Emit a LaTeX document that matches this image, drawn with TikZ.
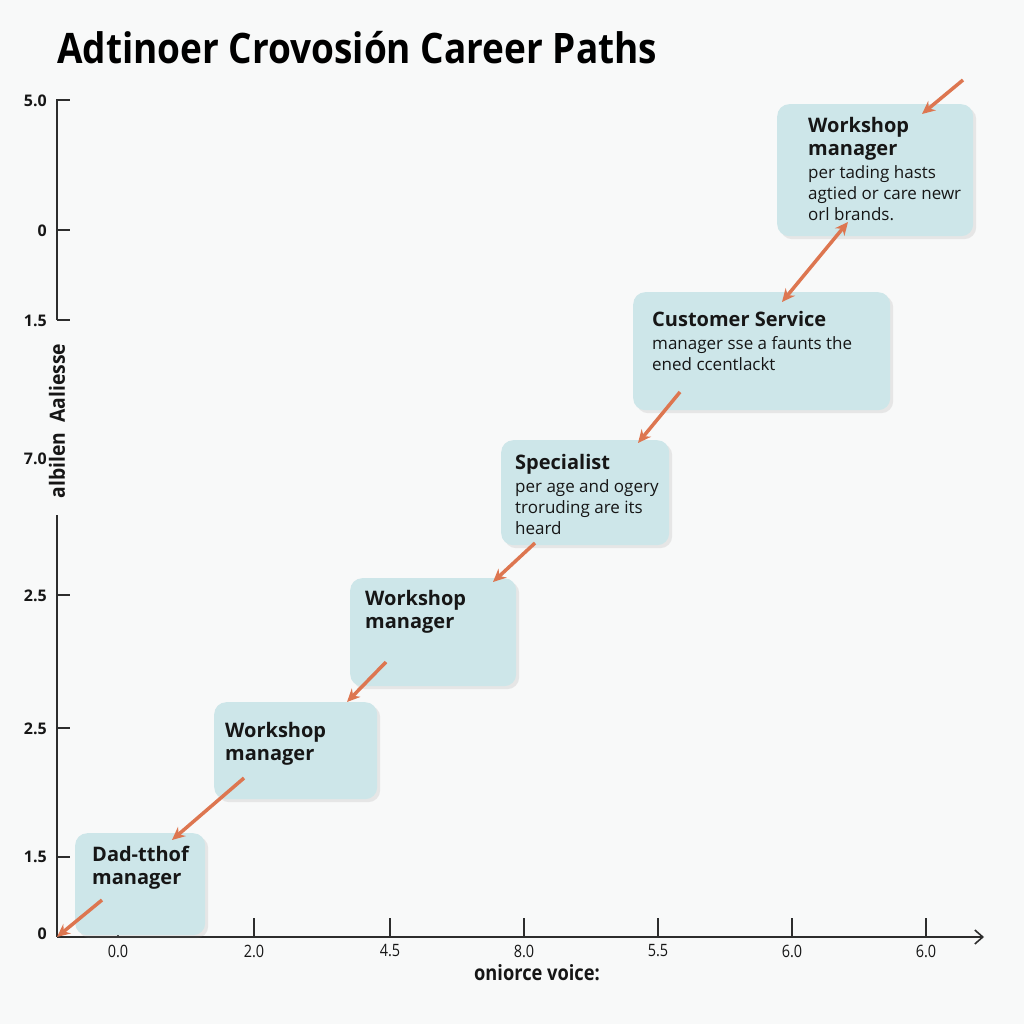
\documentclass[tikz,border=0pt]{standalone}
\usepackage{fontspec}
\setmainfont{Open Sans}
\usetikzlibrary{arrows.meta,shadows}

\definecolor{paper}{RGB}{248,249,249}
\definecolor{boxcyan}{RGB}{205,230,233}
\definecolor{arroworange}{RGB}{221,118,80}
\definecolor{axisgray}{RGB}{45,45,45}
\definecolor{inkblack}{RGB}{22,22,22}

\newcommand{\boxhead}{\bfseries\fontsize{20}{24}\selectfont}

\begin{document}
\begin{tikzpicture}[x=1pt,y=-1pt,
    careerbox/.style={anchor=north west, fill=boxcyan, rounded corners=12pt, inner sep=0pt,
        drop shadow={opacity=0.15, shadow xshift=3pt, shadow yshift=-3pt}},
    boxtext/.style={anchor=north west, inner sep=0pt, align=left, text=inkblack,
        font=\fontsize{17}{21}\selectfont},
    careerarrow/.style={draw=arroworange, line width=3.5pt, -{Stealth[length=13pt,width=12pt]}},
    axisline/.style={draw=axisgray, line width=1.6pt},
    ticklab/.style={text=inkblack, inner sep=0pt, font=\bfseries\fontsize{16}{16}\selectfont}]

    \fill[paper] (0,0) rectangle (1024,1024);
    \useasboundingbox (0,0) rectangle (1024,1024);

    % title
    \node[anchor=west, inner sep=0pt, text=black] (title) at (57,48)
        {\scalebox{0.88}[1]{\bfseries\fontsize{42}{42}\selectfont Adtinoer Crovosión Career Paths}};

    % axes
    \coordinate (origin) at (57,937);
    \coordinate (xend) at (984,937);
    \draw[axisline] (57,320) -- (57,100) -- (70,100);
    \draw[axisline] (57,515) -- (origin);
    \draw[axisline, -{Straight Barb[length=8pt,width=14pt]}] (origin) -- (xend);

    \draw[axisline] (57,230) -- (70,230);
    \draw[axisline] (57,320) -- (70,320);
    \draw[axisline] (57,595) -- (70,595);
    \draw[axisline] (57,728) -- (70,728);
    \draw[axisline] (57,857) -- (70,857);

    \node[ticklab, anchor=east] (y1) at (47,101) {5.0};
    \node[ticklab, anchor=east] (y2) at (47,231) {0};
    \node[ticklab, anchor=east] (y3) at (47,321) {1.5};
    \node[ticklab, anchor=east] (y4) at (47,459) {7.0};
    \node[ticklab, anchor=east] (y5) at (47,596) {2.5};
    \node[ticklab, anchor=east] (y6) at (47,729) {2.5};
    \node[ticklab, anchor=east] (y7) at (47,857) {1.5};
    \node[ticklab, anchor=east] (y8) at (47,934) {0};

    \node[rotate=90, inner sep=0pt, text=inkblack] (ylab) at (57,421)
        {\scalebox{0.92}[1]{\bfseries\fontsize{21}{21}\selectfont albilen\ \ Aaliesse}};

    \draw[axisline, line width=1.2pt] (118,918) -- (118,937);
    \draw[axisline, line width=1.2pt] (254,918) -- (254,937);
    \draw[axisline, line width=1.2pt] (390,918) -- (390,937);
    \draw[axisline, line width=1.2pt] (524,918) -- (524,937);
    \draw[axisline, line width=1.2pt] (658,918) -- (658,937);
    \draw[axisline, line width=1.2pt] (792,918) -- (792,937);
    \draw[axisline, line width=1.2pt] (926,918) -- (926,937);

    \node[ticklab, font=\fontsize{17}{17}\selectfont] (x1) at (118,951) {\scalebox{0.85}[1]{0.0}};
    \node[ticklab, font=\fontsize{17}{17}\selectfont] (x2) at (254,951) {\scalebox{0.85}[1]{2.0}};
    \node[ticklab, font=\fontsize{17}{17}\selectfont] (x3) at (390,951) {\scalebox{0.85}[1]{4.5}};
    \node[ticklab, font=\fontsize{17}{17}\selectfont] (x4) at (524,951) {\scalebox{0.85}[1]{8.0}};
    \node[ticklab, font=\fontsize{17}{17}\selectfont] (x5) at (658,951) {\scalebox{0.85}[1]{5.5}};
    \node[ticklab, font=\fontsize{17}{17}\selectfont] (x6) at (792,951) {\scalebox{0.85}[1]{6.0}};
    \node[ticklab, font=\fontsize{17}{17}\selectfont] (x7) at (926,951) {\scalebox{0.85}[1]{6.0}};

    \node[inner sep=0pt, text=inkblack] (xlab) at (537,973)
        {\scalebox{0.87}[1]{\bfseries\fontsize{21}{21}\selectfont oniorce voice:}};

    % career boxes
    \node[careerbox, minimum width=130, minimum height=102] (dadthof) at (75,833) {};
    \node[careerbox, minimum width=163, minimum height=97] (wsA) at (214,702) {};
    \node[careerbox, minimum width=166, minimum height=108] (wsB) at (350,578) {};
    \node[careerbox, minimum width=168, minimum height=105] (specialist) at (501,440) {};
    \node[careerbox, minimum width=257, minimum height=118] (custserv) at (633,292) {};
    \node[careerbox, minimum width=196, minimum height=132] (wsTop) at (777,104) {};

    \node[boxtext] (dadthofT) at (92,846) {\boxhead Dad-tthof\\[2pt]\boxhead manager};
    \node[boxtext] (wsAT) at (225,722) {\boxhead Workshop\\[2pt]\boxhead manager};
    \node[boxtext] (wsBT) at (365,590) {\boxhead Workshop\\[2pt]\boxhead manager};
    \node[boxtext] (specialistT) at (515,454) {\boxhead Specialist\\[2pt]
        per age and ogery\\ troruding are its\\ heard};
    \node[boxtext] (custservT) at (652,311) {\boxhead Customer Service\\[2pt]
        manager sse a faunts the\\ ened ccentlackt};
    \node[boxtext] (wsTopT) at (808,117) {\boxhead Workshop\\[2pt]\boxhead manager\\[2pt]
        per tading hasts\\ agtied or care newr\\ orl brands.};

    % arrows
    \coordinate (start) at (963,80);
    \draw[careerarrow] (start) -- ([shift={(145,10)}]wsTop.north west);
    \draw[careerarrow, {Stealth[length=13pt,width=12pt]}-{Stealth[length=13pt,width=12pt]}]
        ([shift={(71,118)}]wsTop.north west) -- ([shift={(149,10)}]custserv.north west);
    \draw[careerarrow] ([shift={(47,100)}]custserv.north west) -- ([shift={(137,3)}]specialist.north west);
    \draw[careerarrow] ([shift={(34,103)}]specialist.north west) -- ([shift={(143,4)}]wsB.north west);
    \draw[careerarrow] ([shift={(36,84)}]wsB.north west) -- ([shift={(133,0)}]wsA.north west);
    \draw[careerarrow] ([shift={(30,76)}]wsA.north west) -- ([shift={(97,7)}]dadthof.north west);
    \draw[careerarrow] ([shift={(27,67)}]dadthof.north west) -- (origin);
\end{tikzpicture}
\end{document}
